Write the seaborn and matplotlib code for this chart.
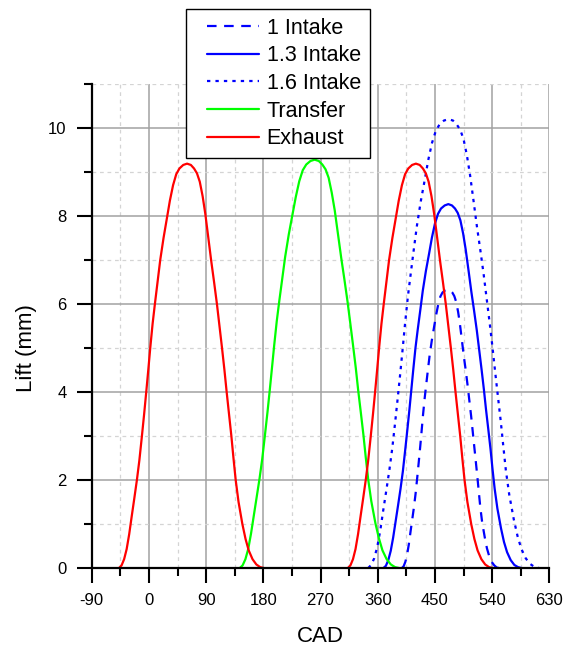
import matplotlib
matplotlib.use("Agg")
import matplotlib.pyplot as plt
from matplotlib.ticker import MultipleLocator
from matplotlib.legend_handler import HandlerLine2D
from matplotlib.lines import Line2D
import seaborn as sns
import pandas as pd

# Valve lift curves: crank angle (deg) and lift (mm)
exhaust1_cad = [-47, -43, -39, -35, -31, -27, -23, -18.9, -15, -11,
                -7.5, -4.2, -1, 2.1, 5.8, 9.4, 13.6, 17.8, 23, 28.3,
                33, 38, 43, 48, 54, 60, 66, 71, 75.6, 80,
                84.5, 88.7, 93.5, 98, 102.5, 107, 111, 115, 118.8, 122.3,
                126, 129.7, 133, 136.5, 141, 147, 152, 157, 163, 169,
                175, 180.6]
exhaust1_lift = [0, 0.06, 0.2, 0.43, 0.77, 1.18, 1.58, 2, 2.45, 3,
                 3.5, 4, 4.5, 5, 5.55, 6, 6.5, 7, 7.5, 7.95,
                 8.35, 8.7, 8.95, 9.08, 9.16, 9.19, 9.16, 9.08, 8.97, 8.78,
                 8.45, 8.05, 7.5, 6.98, 6.5, 6, 5.5, 5, 4.5, 4,
                 3.5, 3, 2.5, 2, 1.5, 1, 0.66, 0.4, 0.2, 0.08,
                 0.02, 0]

exhaust2_cad = [313, 317, 321, 325, 329, 333, 337, 341.1, 345, 349,
                352.5, 355.8, 359, 362.1, 365.8, 369.4, 373.6, 377.8, 383, 388.3,
                393, 398, 403, 408, 414, 420, 426, 431, 435.6, 440,
                444.5, 448.7, 453.5, 458, 462.5, 467, 471, 475, 478.8, 482.3,
                486, 489.7, 493, 496.5, 501, 507, 512, 517, 523, 529,
                535, 540.6]
exhaust2_lift = [0, 0.06, 0.2, 0.43, 0.77, 1.18, 1.58, 2, 2.45, 3,
                 3.5, 4, 4.5, 5, 5.55, 6, 6.5, 7, 7.5, 7.95,
                 8.35, 8.7, 8.95, 9.08, 9.16, 9.19, 9.16, 9.08, 8.97, 8.78,
                 8.45, 8.05, 7.5, 6.98, 6.5, 6, 5.5, 5, 4.5, 4,
                 3.5, 3, 2.5, 2, 1.5, 1, 0.66, 0.4, 0.2, 0.08,
                 0.02, 0]

transfer_cad = [143, 147.4, 151.8, 156.2, 160.6, 165, 169.4, 173.9, 178.2, 182.6,
                186.5, 190.1, 193.6, 197, 201.1, 205, 209.7, 214.3, 220, 225.8,
                231, 236.5, 242, 247.5, 254.1, 260.7, 267.3, 272.8, 277.9, 282.7,
                287.6, 292.3, 297.5, 302.5, 307.4, 312.4, 316.8, 321.2, 325.4, 329.2,
                333.3, 337.4, 341, 344.9, 349.8, 356.4, 361.9, 367.4, 374, 380.6,
                387.2, 393.4]
transfer_lift = [0, 0.06, 0.2, 0.43, 0.78, 1.19, 1.6, 2.02, 2.47, 3.03,
                 3.54, 4.04, 4.55, 5.05, 5.61, 6.06, 6.57, 7.07, 7.58, 8.03,
                 8.43, 8.79, 9.04, 9.17, 9.25, 9.28, 9.25, 9.17, 9.06, 8.87,
                 8.53, 8.13, 7.58, 7.05, 6.57, 6.06, 5.56, 5.05, 4.55, 4.04,
                 3.54, 3.03, 2.53, 2.02, 1.52, 1.01, 0.67, 0.4, 0.2, 0.08,
                 0.02, 0]

intake10_cad = [398, 400.7, 403.4, 406.1, 408.8, 411.4, 414.1, 416.9, 419.5, 422.2,
                424.5, 426.8, 428.9, 431, 433.5, 435.9, 438.7, 441.5, 445, 448.6,
                451.8, 455.1, 458.5, 461.8, 465.9, 469.9, 473.9, 477.3, 480.4, 483.3,
                486.4, 489.2, 492.4, 495.4, 498.5, 501.5, 504.2, 506.9, 509.4, 511.8,
                514.3, 516.7, 519, 521.3, 524.3, 528.4, 531.7, 535.1, 539.1, 543.2,
                547.2, 550.9]
intake10_lift = [0, 0.04, 0.14, 0.3, 0.53, 0.81, 1.09, 1.38, 1.69, 2.07,
                 2.41, 2.76, 3.1, 3.45, 3.82, 4.13, 4.48, 4.82, 5.17, 5.48,
                 5.75, 5.99, 6.17, 6.26, 6.31, 6.33, 6.31, 6.26, 6.18, 6.05,
                 5.82, 5.55, 5.17, 4.81, 4.48, 4.13, 3.79, 3.45, 3.1, 2.76,
                 2.41, 2.07, 1.72, 1.38, 1.03, 0.69, 0.45, 0.28, 0.14, 0.06,
                 0.01, 0]

intake13_cad = [369, 372.8, 376.6, 380.4, 384.2, 388.1, 391.9, 395.8, 399.5, 403.3,
                406.6, 409.8, 412.8, 415.8, 419.3, 422.7, 426.8, 430.8, 435.7, 440.8,
                445.2, 450, 454.8, 459.5, 465.3, 471, 476.7, 481.5, 485.8, 490,
                494.3, 498.3, 502.9, 507.2, 511.5, 515.8, 519.6, 523.4, 527, 530.3,
                533.9, 537.4, 540.5, 543.9, 548.2, 553.9, 558.6, 563.4, 569.1, 574.8,
                580.6, 585.9]
intake13_lift = [0, 0.05, 0.18, 0.39, 0.69, 1.06, 1.42, 1.8, 2.2, 2.7,
                 3.15, 3.6, 4.05, 4.5, 5.0, 5.4, 5.85, 6.3, 6.75, 7.15,
                 7.51, 7.83, 8.05, 8.17, 8.24, 8.27, 8.24, 8.17, 8.07, 7.9,
                 7.6, 7.24, 6.75, 6.28, 5.85, 5.4, 4.95, 4.5, 4.05, 3.6,
                 3.15, 2.7, 2.25, 1.8, 1.35, 0.9, 0.59, 0.36, 0.18, 0.07,
                 0.02, 0]

intake16_cad = [345, 349.7, 354.4, 359.2, 363.9, 368.6, 373.3, 378.2, 382.8, 387.5,
                391.6, 395.5, 399.3, 402.9, 407.3, 411.6, 416.5, 421.5, 427.6, 433.9,
                439.4, 445.3, 451.2, 457.1, 464.2, 471.3, 478.3, 484.2, 489.7, 494.9,
                500.2, 505.1, 510.8, 516.1, 521.4, 526.7, 531.4, 536.2, 540.6, 544.8,
                549.1, 553.5, 557.4, 561.5, 566.8, 573.9, 579.8, 585.7, 592.8, 599.9,
                607, 613.6]
intake16_lift = [0, 0.07, 0.22, 0.48, 0.85, 1.31, 1.75, 2.22, 2.72, 3.33,
                 3.89, 4.44, 5.0, 5.55, 6.16, 6.66, 7.22, 7.77, 8.33, 8.82,
                 9.27, 9.66, 9.93, 10.08, 10.17, 10.2, 10.17, 10.08, 9.96, 9.75,
                 9.38, 8.94, 8.33, 7.75, 7.22, 6.66, 6.11, 5.55, 5.0, 4.44,
                 3.89, 3.33, 2.78, 2.22, 1.67, 1.11, 0.73, 0.44, 0.22, 0.09,
                 0.02, 0]

x_ticks = [-90, 0, 90, 180, 270, 360, 450, 540, 630]
y_ticks = [0, 2, 4, 6, 8, 10]

BLUE, GREEN, RED = "#0000ff", "#00ff00", "#ff0000"

sns.set_style("white")
plt.rcParams["font.family"] = ["Liberation Sans", "DejaVu Sans"]
plt.rcParams["axes.unicode_minus"] = False
for key in ("text.color", "axes.labelcolor", "xtick.color", "ytick.color"):
    plt.rcParams[key] = "black"

fig = plt.figure(figsize=(5.66, 6.51), dpi=100)
ax = fig.add_axes([91.7 / 566, 83 / 651, 457.7 / 566, 484 / 651])

series = [
    ("1 Intake", intake10_cad, intake10_lift, BLUE, (0, (4.3, 3.4))),
    ("1.3 Intake", intake13_cad, intake13_lift, BLUE, "-"),
    ("1.6 Intake", intake16_cad, intake16_lift, BLUE, (0, (1.5, 2.3))),
    ("Transfer", transfer_cad, transfer_lift, GREEN, "-"),
    ("Exhaust", exhaust1_cad, exhaust1_lift, RED, "-"),
    ("_Exhaust", exhaust2_cad, exhaust2_lift, RED, "-"),
]

for label, cad, lift, color, ls in series:
    df = pd.DataFrame({"CAD": cad, "Lift": lift})
    sns.lineplot(data=df, x="CAD", y="Lift", ax=ax, sort=False, estimator=None,
                 color=color, linestyle=ls, linewidth=1.6, label=label, zorder=3)

ax.set_xlim(-90, 630)
ax.set_ylim(0, 11)
ax.set_xticks(x_ticks)
ax.set_yticks(y_ticks)
ax.xaxis.set_minor_locator(MultipleLocator(45))
ax.yaxis.set_minor_locator(MultipleLocator(1))

ax.set_axisbelow(True)
ax.grid(which="major", color="#a2a2a2", linewidth=1.1, linestyle="-")
ax.grid(which="minor", color="#d4d4d4", linewidth=0.9, linestyle=(0, (3, 3)))

# no grid line along the open top and right edges
for t in ax.xaxis.get_major_ticks():
    if abs(t.get_loc() - 630) < 1e-6:
        t.gridline.set_visible(False)
for t in ax.yaxis.get_minor_ticks():
    if abs(t.get_loc() - 11) < 1e-6:
        t.gridline.set_visible(False)

for side in ("top", "right"):
    ax.spines[side].set_visible(False)
for side in ("left", "bottom"):
    ax.spines[side].set_color("black")
    ax.spines[side].set_linewidth(1.6)
    ax.spines[side].set_zorder(4)

ax.tick_params(which="major", direction="out", length=11, width=1.5, color="black",
               labelsize=12, pad=7, labelcolor="black")
ax.tick_params(which="minor", direction="out", length=6, width=1.5, color="black")
ax.tick_params(axis="x", which="both", bottom=True)
ax.tick_params(axis="y", which="both", left=True)

ax.set_xlabel("CAD", fontsize=16)
ax.set_ylabel("Lift (mm)", fontsize=16)
ax.xaxis.set_label_coords(0.5, -0.12)
ax.yaxis.set_label_coords(-0.12, 5 / 11)

handles, labels = ax.get_legend_handles_labels()
leg = ax.legend(handles, labels, loc="upper left", bbox_to_anchor=(0.206, 1.155),
                borderaxespad=0, fontsize=15.5, frameon=True, fancybox=False,
                framealpha=1, edgecolor="black", labelspacing=0.31, borderpad=0.4,
                handlelength=3.0, handletextpad=0.35,
                handler_map={Line2D: HandlerLine2D(xpad=0.56)})
leg.get_frame().set_linewidth(1.0)
leg.set_zorder(5)

fig.savefig("out.png", dpi=100)
